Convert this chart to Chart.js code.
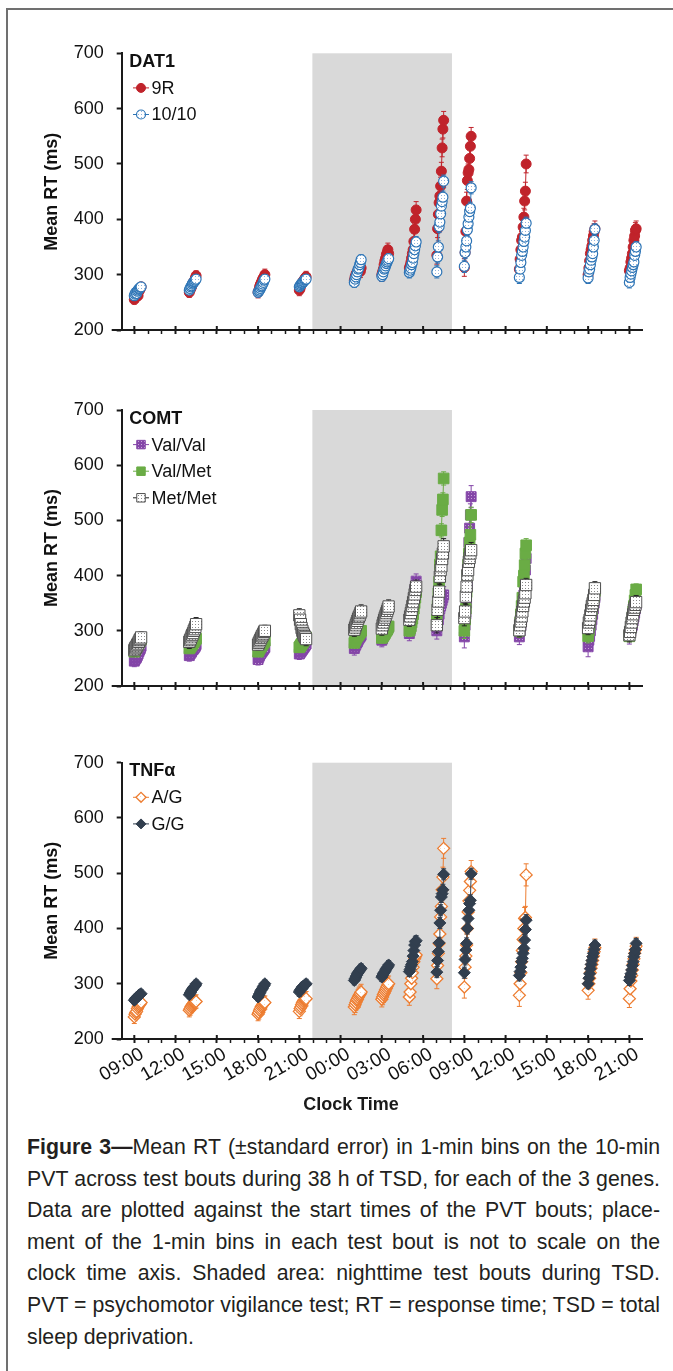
<!DOCTYPE html>
<html><head><meta charset="utf-8">
<script src="https://cdn.jsdelivr.net/npm/chart.js@4.4.1/dist/chart.umd.min.js"></script>
<style>
html,body{margin:0;padding:0;background:#fff;}
#page{position:relative;width:673px;height:1371px;overflow:hidden;background:#fff;font-family:"Liberation Sans",Arial,sans-serif;}
#frame{position:absolute;left:6px;top:8px;width:720px;height:1420px;border-left:2px solid #707070;border-top:2px solid #707070;}
canvas.panel{position:absolute;left:0;}
#xtitle{position:absolute;top:1094px;left:251px;width:200px;text-align:center;font-weight:bold;font-size:18px;line-height:21px;color:#1a1a1a;}
#caption{position:absolute;left:27px;width:633px;top:1132px;font-size:21.4px;line-height:31.6px;color:#231f20;}
#caption div{white-space:nowrap;text-align:justify;text-align-last:justify;}
#caption div.last{text-align-last:left;}
#caption.measure div{text-align:left;text-align-last:left;}
</style></head>
<body><div id="page">
<div id="frame"></div>
<canvas id="c1" class="panel" width="673" height="360" style="top:0px;width:673px;height:360px"></canvas>
<canvas id="c2" class="panel" width="673" height="356" style="top:360px;width:673px;height:356px"></canvas>
<canvas id="c3" class="panel" width="673" height="380" style="top:716px;width:673px;height:380px"></canvas>
<div id="xtitle">Clock Time</div>
<div id="caption" class="measure">
<div><span><b>Figure 3—</b>Mean RT (±standard error) in 1-min bins on the 10-min</span></div>
<div><span>PVT across test bouts during 38 h of TSD, for each of the 3 genes.</span></div>
<div><span>Data are plotted against the start times of the PVT bouts; place-</span></div>
<div><span>ment of the 1-min bins in each test bout is not to scale on the</span></div>
<div><span>clock time axis. Shaded area: nighttime test bouts during TSD.</span></div>
<div><span>PVT = psychomotor vigilance test; RT = response time; TSD = total</span></div>
<div class="last"><span>sleep deprivation.</span></div>
</div>
</div>
<script>
// ---------------- data ----------------
// test bout start times, hours after 09:00 on day 1
const boutStartH = [0, 4, 9, 12, 16, 18, 20, 22, 24, 28, 33, 36];
const binStepH = 0.055;
const xTickHours = [0, 3, 6, 9, 12, 15, 18, 21, 24, 27, 30, 33, 36];
const xTickLabels = ['09:00','12:00','15:00','18:00','21:00','00:00','03:00','06:00','09:00','12:00','15:00','18:00','21:00'];
const yTicks = [200, 300, 400, 500, 600, 700];
const nightShadeH = [12.95, 23.1];
const xRangeH = [-0.916, 36.97];

// DAT1
const dat1_9R = [
  [255,258,262,265,268,262,270,272,275,278],
  [268,272,275,278,282,285,288,290,294,298],
  [268,272,278,282,285,288,292,294,296,300],
  [272,275,280,283,286,288,290,292,294,296],
  [290,296,300,303,306,308,305,310,306,312],
  [300,305,310,318,325,330,336,340,345,338],
  [312,316,322,330,338,345,360,382,400,417],
  [335,383,409,430,442,460,487,529,563,579],
  [313,340,378,433,470,484,490,510,532,550],
  [310,328,345,362,368,386,404,433,451,500],
  [300,312,325,338,345,352,362,370,378,383],
  [307,312,323,330,338,350,362,370,380,383]];
const dat1_9R_se = [8,9,10,10,11,12,15,16,16,16,14,14];
const dat1_1010 = [
  [262,265,268,266,270,272,274,275,277,278],
  [272,275,278,280,283,285,287,288,290,292],
  [268,270,272,275,278,280,283,286,290,292],
  [278,280,282,284,285,287,288,290,291,292],
  [286,292,296,300,305,310,312,318,322,327],
  [297,300,305,310,312,316,320,323,326,329],
  [304,308,312,318,322,330,338,345,352,359],
  [305,332,350,387,395,410,424,432,440,469],
  [315,340,350,361,381,392,404,414,420,457],
  [295,310,322,335,342,350,360,368,380,393],
  [294,305,310,318,326,332,338,350,362,382],
  [286,295,301,307,313,318,323,335,342,350]];
const dat1_1010_se = [7,7,8,8,9,9,10,11,11,11,10,10];

// COMT
const comt_ValVal = [
  [245,248,250,252,255,258,262,265,268,272],
  [255,258,260,262,265,266,268,270,272,275],
  [248,252,255,258,260,262,264,266,268,270],
  [258,260,262,264,266,268,270,272,274,276],
  [268,272,275,278,280,283,286,288,290,292],
  [283,286,290,293,296,299,301,303,305,307],
  [295,300,308,318,330,345,360,372,380,390],
  [300,310,320,330,340,345,350,355,360,365],
  [289,310,330,350,380,420,460,486,510,543],
  [289,300,310,320,335,350,365,380,410,431],
  [271,283,290,300,310,320,330,340,350,360],
  [290,295,300,305,310,318,325,332,340,348]];
const comt_ValVal_se = [10,10,10,10,12,12,13,15,20,14,18,14];
const comt_ValMet = [
  [262,265,268,270,272,275,278,280,282,285],
  [268,270,272,274,276,278,280,282,284,286],
  [262,265,268,270,272,274,276,278,280,282],
  [270,272,274,276,278,280,282,284,286,288],
  [278,282,285,288,290,292,294,296,298,300],
  [287,289,291,293,295,298,300,302,305,308],
  [300,304,308,315,322,330,340,350,360,370],
  [320,345,368,389,420,435,482,519,538,576],
  [300,320,340,370,400,420,440,460,474,510],
  [300,315,330,345,360,389,400,419,440,455],
  [290,301,310,320,330,338,345,355,362,372],
  [290,298,305,315,325,335,345,355,365,375]];
const comt_ValMet_se = [8,8,8,8,9,9,10,12,14,12,12,10];
const comt_MetMet = [
  [265,268,270,272,275,277,280,283,285,288],
  [280,283,286,290,293,296,300,303,307,312],
  [275,278,281,284,287,290,292,295,298,300],
  [328,320,312,305,300,296,293,290,288,285],
  [302,306,310,314,318,322,325,328,332,335],
  [304,310,315,320,324,328,332,336,340,344],
  [320,326,332,338,345,352,359,366,374,380],
  [310,338,353,371,398,410,417,430,440,453],
  [323,335,362,380,401,410,425,432,440,446],
  [301,310,317,326,335,345,353,360,368,383],
  [305,315,320,328,338,345,350,356,365,377],
  [292,298,307,315,323,330,338,342,347,352]];
const comt_MetMet_se = [10,12,10,12,12,12,12,14,14,12,12,12];

// TNFα
const tnf_AG = [
  [240,245,248,250,255,258,260,262,264,266],
  [252,255,258,260,262,264,265,266,267,268],
  [245,248,252,255,258,260,262,264,265,266],
  [250,255,258,262,265,268,270,271,272,273],
  [258,262,266,270,272,275,278,280,282,285],
  [272,276,280,283,286,289,292,295,298,300],
  [276,285,300,310,320,330,340,345,349,352],
  [309,333,355,373,390,421,440,470,493,545],
  [294,330,350,370,400,430,450,469,485,503],
  [279,300,320,340,360,380,400,418,420,497],
  [288,300,310,320,328,335,342,350,358,365],
  [273,291,305,315,325,335,345,355,361,368]];
const tnf_AG_se = [12,12,12,13,14,14,15,18,20,20,16,16];
const tnf_GG = [
  [270,272,274,275,276,278,279,280,281,282],
  [280,283,285,288,290,292,294,295,297,300],
  [276,279,282,285,288,290,292,295,297,300],
  [285,288,290,292,294,295,296,297,298,300],
  [306,309,312,315,318,320,322,324,326,328],
  [312,315,318,320,322,325,327,329,331,334],
  [322,326,331,335,340,350,360,370,376,378],
  [321,342,358,374,410,433,457,463,470,498],
  [320,344,361,373,400,418,433,445,451,499],
  [315,322,330,340,346,355,364,379,398,415],
  [300,310,318,327,335,342,349,355,362,370],
  [306,312,318,325,333,340,349,355,362,373]];
const tnf_GG_se = [7,7,7,8,8,8,9,10,10,10,9,9];

// ---------------- caption fitting ----------------
(function fitCaption() {
  const cap = document.getElementById('caption');
  let size = 21.4, worst = 1;
  cap.querySelectorAll('span').forEach(s => { const w = s.getBoundingClientRect().width; if (w > 633) worst = Math.min(worst, 632 / w); });
  cap.style.fontSize = (size * worst) + 'px';
  cap.classList.remove('measure');
})();

// ---------------- helpers ----------------
const FONT = '"Liberation Sans", Arial, sans-serif';
Chart.defaults.font.family = FONT;
Chart.defaults.color = '#111';

function dotPattern(bg, dot, size) {
  const c = document.createElement('canvas');
  c.width = size; c.height = size;
  const g = c.getContext('2d');
  g.fillStyle = bg; g.fillRect(0, 0, size, size);
  g.fillStyle = dot; g.fillRect(0, 0, 1, 1);
  return g.createPattern(c, 'repeat');
}

function buildSeries(values, se) {
  const pts = [], err = [];
  values.forEach((bout, b) => {
    bout.forEach((v, i) => { pts.push({x: boutStartH[b] + i * binStepH, y: v}); err.push(se[b]); });
    pts.push({x: boutStartH[b] + 10 * binStepH, y: null}); err.push(null);
  });
  return {pts, err};
}

function makeDataset(label, values, se, style) {
  const s = buildSeries(values, se);
  return Object.assign({
    label: label, data: s.pts, errors: s.err,
    showLine: true, spanGaps: false, borderWidth: 1, tension: 0,
    pointBorderWidth: 1, pointHoverRadius: 0
  }, style);
}

const shadePlugin = {
  id: 'nightShade',
  beforeDraw(chart) {
    const {ctx, scales: {x, y}} = chart;
    const x0 = x.getPixelForValue(nightShadeH[0]), x1 = x.getPixelForValue(nightShadeH[1]);
    const y0 = y.getPixelForValue(yTicks[yTicks.length - 1]), y1 = y.getPixelForValue(yTicks[0]);
    ctx.save(); ctx.fillStyle = '#d9d9d9'; ctx.fillRect(x0, y0, x1 - x0, y1 - y0); ctx.restore();
  }
};

const errorBarPlugin = {
  id: 'errorBars',
  beforeDatasetDraw(chart, args) {
    const ds = chart.data.datasets[args.index];
    const yS = chart.scales.y, ctx = chart.ctx;
    ctx.save();
    ctx.strokeStyle = ds.errorColor || ds.borderColor; ctx.lineWidth = 1;
    args.meta.data.forEach((el, i) => {
      const e = ds.errors[i], p = ds.data[i];
      if (e == null || p.y == null) return;
      const yt = yS.getPixelForValue(p.y + e), yb = yS.getPixelForValue(p.y - e);
      ctx.beginPath();
      ctx.moveTo(el.x, yt); ctx.lineTo(el.x, yb);
      ctx.moveTo(el.x - 2.5, yt); ctx.lineTo(el.x + 2.5, yt);
      ctx.moveTo(el.x - 2.5, yb); ctx.lineTo(el.x + 2.5, yb);
      ctx.stroke();
    });
    ctx.restore();
  }
};

const axisExtrasPlugin = {
  id: 'axisExtras',
  afterDraw(chart) {
    const {ctx, chartArea: ca, scales: {x}} = chart;
    ctx.save(); ctx.strokeStyle = '#1a1a1a'; ctx.lineWidth = 2;
    ctx.beginPath();
    ctx.moveTo(ca.left - 10, ca.bottom); ctx.lineTo(ca.left, ca.bottom);
    xTickHours.forEach(h => { const px = x.getPixelForValue(h); ctx.moveTo(px, ca.bottom - 4); ctx.lineTo(px, ca.bottom); });
    ctx.stroke(); ctx.restore();
  }
};

const legendPlugin = {
  id: 'geneLegend',
  afterDraw(chart, args, opts) {
    const {ctx, chartArea: ca} = chart;
    ctx.save();
    ctx.textBaseline = 'middle'; ctx.textAlign = 'left';
    ctx.fillStyle = '#111'; ctx.font = 'bold 18px ' + FONT;
    ctx.fillText(opts.title, ca.left + 7.6, ca.top + 8.8);
    ctx.font = '18px ' + FONT;
    chart.data.datasets.forEach((ds, i) => {
      const y = ca.top + 34.6 + i * 26.6, x0 = ca.left + 11.3;
      ctx.strokeStyle = ds.borderColor; ctx.lineWidth = 1;
      ctx.beginPath(); ctx.moveTo(x0, y); ctx.lineTo(x0 + 16, y); ctx.stroke();
      ctx.fillStyle = ds.pointBackgroundColor; ctx.strokeStyle = ds.pointBorderColor; ctx.lineWidth = ds.pointBorderWidth;
      Chart.helpers.drawPoint(ctx, {pointStyle: ds.pointStyle, radius: ds.legendRadius, rotation: 0, borderWidth: ds.pointBorderWidth}, x0 + 8, y);
      ctx.fillStyle = '#111';
      ctx.fillText(ds.label, x0 + 18.5, y + 1);
    });
    ctx.restore();
  }
};

function makeChart(id, title, datasets, geom) {
  const showLabels = geom.labels;
  return new Chart(document.getElementById(id), {
    type: 'line',
    data: {datasets: datasets},
    plugins: [shadePlugin, errorBarPlugin, axisExtrasPlugin, legendPlugin],
    options: {
      responsive: false, animation: false, events: [],
      layout: {padding: {left: 0, right: 30.3, top: geom.top, bottom: 0}},
      plugins: {legend: {display: false}, tooltip: {enabled: false}, geneLegend: {title: title}},
      scales: {
        x: {
          type: 'linear', min: xRangeH[0], max: xRangeH[1],
          afterBuildTicks: s => { const t = []; for (let h = 0; h <= 36; h++) t.push({value: h}); s.ticks = t; },
          afterFit: s => { s.height = geom.xh; },
          grid: {drawOnChartArea: false, drawTicks: true, tickLength: 4,
                 tickWidth: c => (c.tick && xTickHours.includes(c.tick.value)) ? 2 : 1.5, tickColor: '#1a1a1a'},
          border: {display: true, width: 2, color: '#1a1a1a'},
          ticks: {display: showLabels, autoSkip: false, minRotation: 30, maxRotation: 30, padding: 0, labelOffset: 8,
                  font: {size: 19}, color: '#111',
                  callback: v => { const i = xTickHours.indexOf(v); return i >= 0 ? xTickLabels[i] : ''; }}
        },
        y: {
          type: 'linear', min: yTicks[0], max: yTicks[yTicks.length - 1],
          afterBuildTicks: s => { s.ticks = yTicks.map(v => ({value: v})); },
          afterFit: s => { s.width = 121.7; },
          grid: {drawOnChartArea: false, drawTicks: true, tickLength: 5, tickWidth: 2, tickColor: '#1a1a1a'},
          border: {display: true, width: 2, color: '#1a1a1a'},
          ticks: {padding: 13, font: {size: 18}, color: '#111'},
          title: {display: true, text: 'Mean RT (ms)', font: {size: 18, weight: 'bold'}, color: '#111', padding: {top: 41, bottom: 0}}
        }
      }
    }
  });
}

// patterns
const pat1010 = dotPattern('#ffffff', '#8db3de', 3);
const patValVal = dotPattern('#8446a8', '#c7a3da', 3);
const patMetMet = dotPattern('#ffffff', '#8a8a8a', 3);
const patAG = dotPattern('#ffffff', '#f8d5bb', 4);

makeChart('c1', 'DAT1', [
  makeDataset('9R', dat1_9R, dat1_9R_se, {order: 1, borderColor: '#c0232b', pointBackgroundColor: '#c0232b', pointBorderColor: '#c0232b',
    pointStyle: 'circle', pointRadius: 5, legendRadius: 4.5}),
  makeDataset('10/10', dat1_1010, dat1_1010_se, {order: 0, borderColor: '#2e75b6', pointBackgroundColor: pat1010, pointBorderColor: '#2e75b6',
    pointStyle: 'circle', pointRadius: 5, pointBorderWidth: 1.2, legendRadius: 4.5})
], {top: 53.3, xh: 30, labels: false});

makeChart('c2', 'COMT', [
  makeDataset('Val/Val', comt_ValVal, comt_ValVal_se, {order: 2, borderColor: '#8446a8', pointBackgroundColor: patValVal, pointBorderColor: '#8446a8',
    pointStyle: 'rect', pointRadius: 7, legendRadius: 6}),
  makeDataset('Val/Met', comt_ValMet, comt_ValMet_se, {order: 1, borderColor: '#6aac45', pointBackgroundColor: '#6aac45', pointBorderColor: '#6aac45',
    pointStyle: 'rect', pointRadius: 7.5, legendRadius: 6}),
  makeDataset('Met/Met', comt_MetMet, comt_MetMet_se, {order: 0, borderColor: '#222222', pointBackgroundColor: patMetMet, pointBorderColor: '#505050',
    pointStyle: 'rect', pointRadius: 8, legendRadius: 6})
], {top: 50, xh: 30, labels: false});

makeChart('c3', 'TNFα', [
  makeDataset('A/G', tnf_AG, tnf_AG_se, {order: 1, borderColor: '#ed7d31', pointBackgroundColor: patAG, pointBorderColor: '#ed7d31',
    pointStyle: 'rectRot', pointRadius: 6, pointBorderWidth: 1.3, legendRadius: 5}),
  makeDataset('G/G', tnf_GG, tnf_GG_se, {order: 0, borderColor: '#323f4f', pointBackgroundColor: '#323f4f', pointBorderColor: '#323f4f',
    pointStyle: 'rectRot', pointRadius: 6, legendRadius: 5})
], {top: 46.7, xh: 57, labels: true});
</script>
</body></html>
